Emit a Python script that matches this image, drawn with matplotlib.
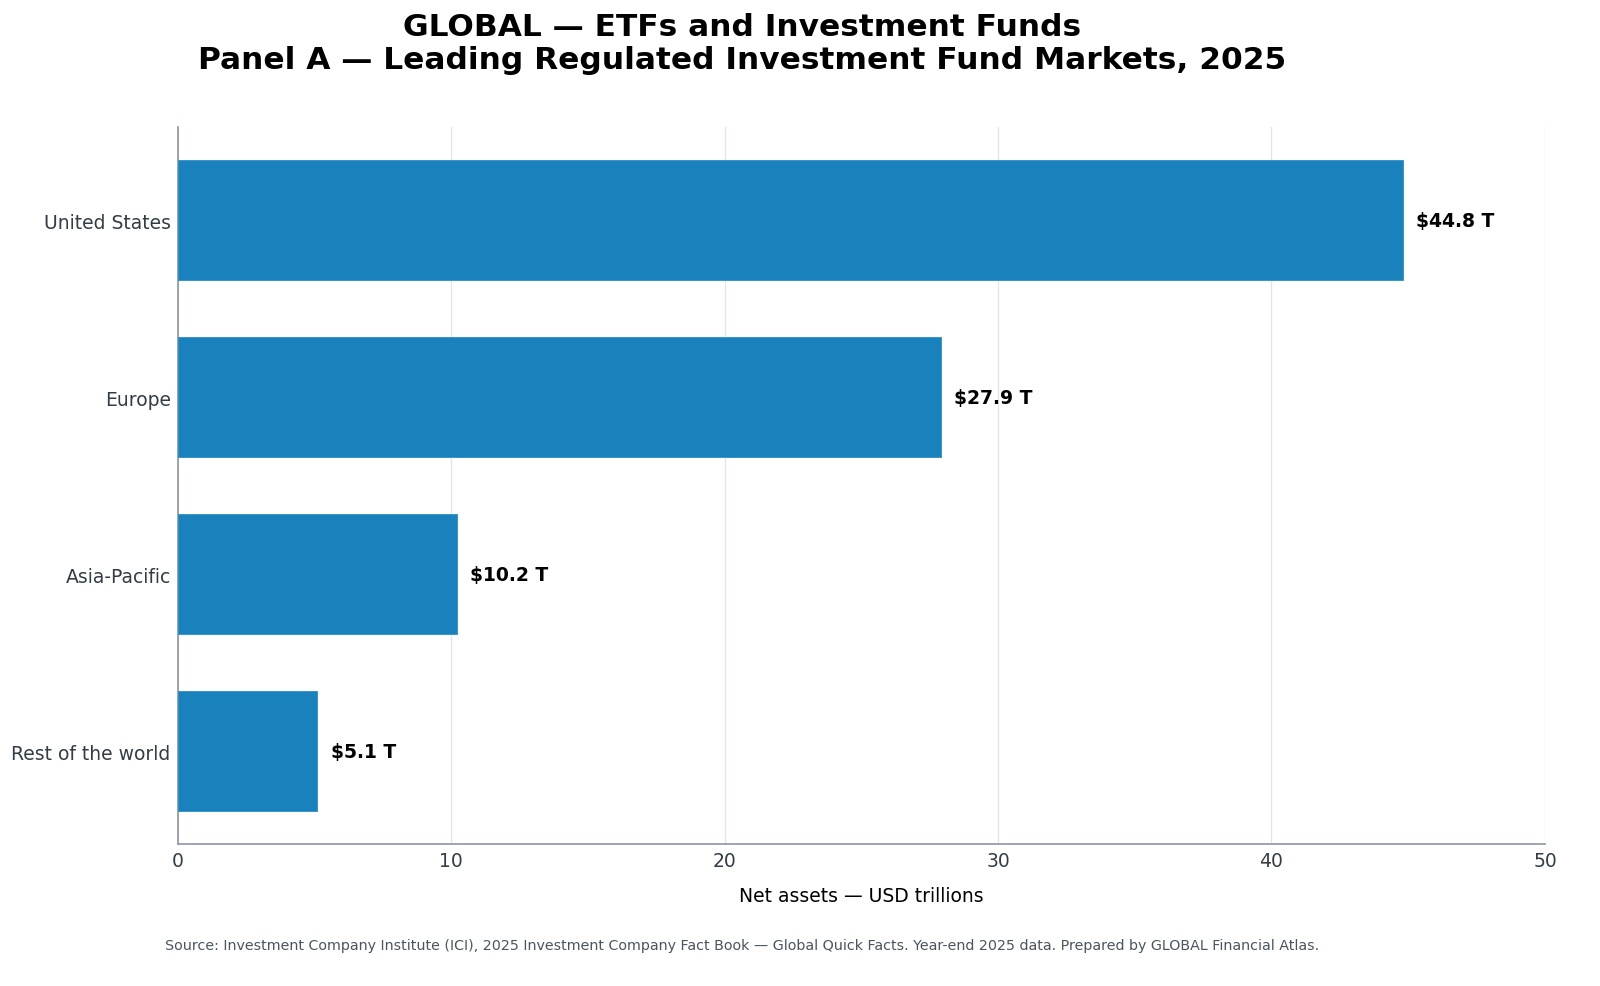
import matplotlib
matplotlib.use("Agg")
import matplotlib.pyplot as plt

regions = ["United States", "Europe", "Asia-Pacific", "Rest of the world"]
net_assets = [44.8, 27.9, 10.2, 5.1]
x_ticks = [0, 10, 20, 30, 40, 50]

BAR = "#1982bd"
SPINE = "#8c97a3"
TXT = "#333d47"

fig, ax = plt.subplots(figsize=(16, 9.87), dpi=100)
fig.subplots_adjust(left=0.111, right=0.9656, top=0.870, bottom=0.144)

ypos = list(range(len(regions)))
ax.barh(ypos, net_assets, height=0.68, color=BAR, edgecolor="#2b8fc8", linewidth=0.6, zorder=3)
for y, v in zip(ypos, net_assets):
    ax.text(v + 0.5, y, f"${v:.1f} T", va="center", ha="left",
            fontsize=13.5, fontweight="bold", color="black", zorder=4)

ax.set_yticks(ypos)
ax.set_yticklabels(regions)
ax.invert_yaxis()
ax.set_xlim(0, 50)
ax.set_xticks(x_ticks)
ax.tick_params(axis="both", labelsize=13.5, colors=TXT, length=0, pad=5)
ax.grid(axis="x", color="#e3e6e9", linewidth=1.0, zorder=0)
ax.set_axisbelow(True)
for s in ("top", "right"):
    ax.spines[s].set_visible(False)
for s in ("left", "bottom"):
    ax.spines[s].set_color(SPINE)
    ax.spines[s].set_linewidth(1.2)

ax.set_xlabel("Net assets \u2014 USD trillions", fontsize=13.5, labelpad=12, color="black")

fig.suptitle("GLOBAL \u2014 ETFs and Investment Funds\nPanel A \u2014 Leading Regulated Investment Fund Markets, 2025",
             fontsize=22.5, fontweight="bold", y=0.987, x=0.464)
fig.text(0.464, 0.037,
         "Source: Investment Company Institute (ICI), 2025 Investment Company Fact Book \u2014 Global Quick Facts. "
         "Year-end 2025 data. Prepared by GLOBAL Financial Atlas.",
         ha="center", fontsize=10.25, color="#4a5560")

fig.savefig("out.png", dpi=100)
